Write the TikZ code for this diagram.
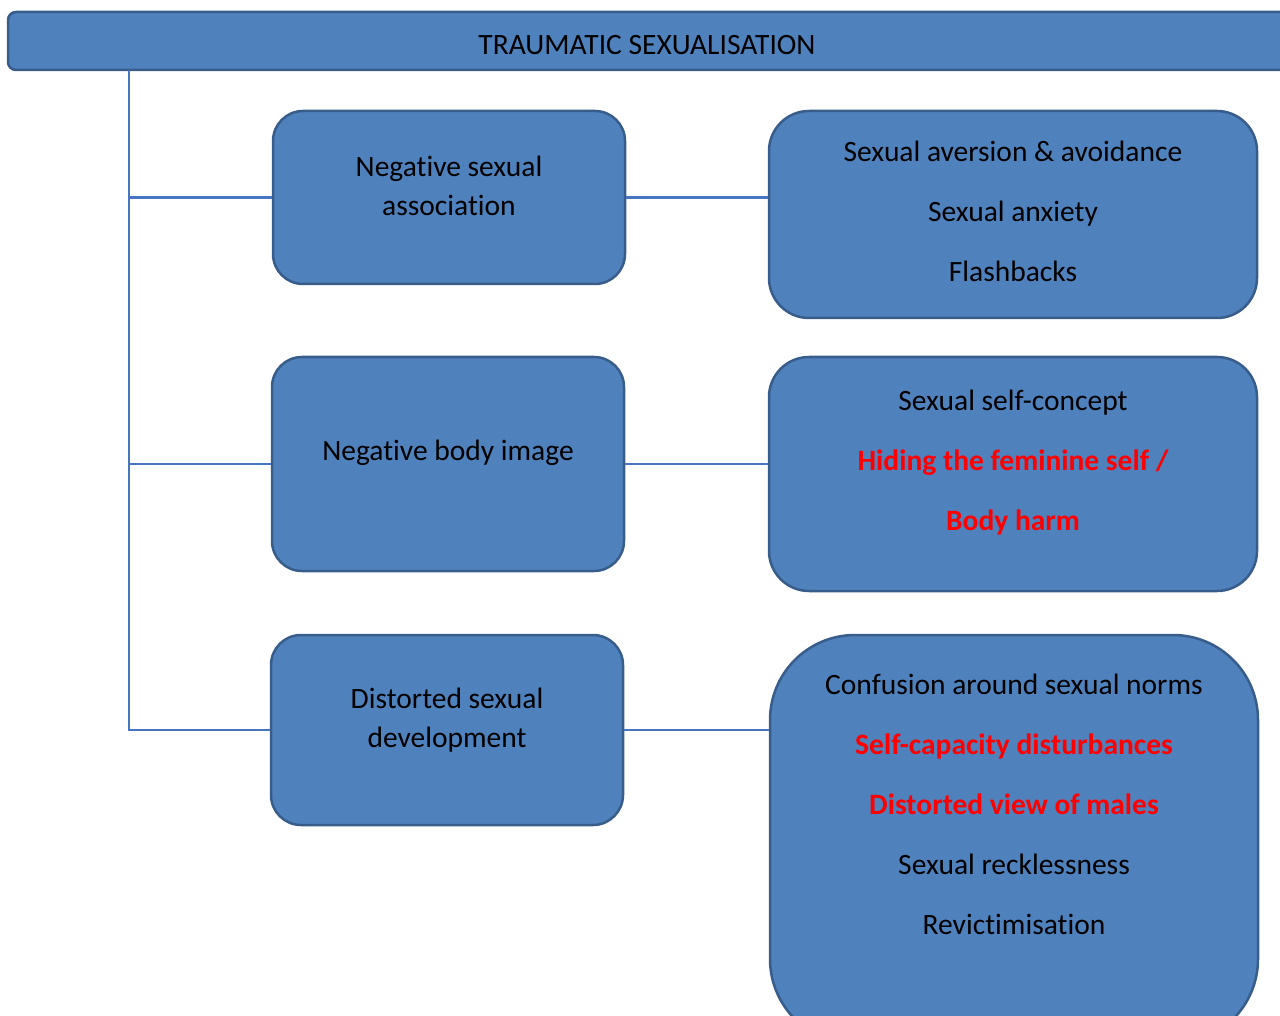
\documentclass[tikz,border=0pt]{standalone}
\usepackage{fontspec}
\setmainfont{Carlito}[Ligatures=NoCommon]
\definecolor{boxfill}{HTML}{4F81BD}
\definecolor{boxline}{HTML}{385D8A}
\definecolor{linkline}{HTML}{4775C0}
\begin{document}
\begin{tikzpicture}[x=1pt, y=-1pt,
    box/.style={draw=boxline, fill=boxfill, line width=2.5pt, inner sep=0pt},
    txt/.style={align=center, font=\fontsize{29.5}{39}\selectfont},
    list/.style={align=center, font=\fontsize{29.5}{60}\selectfont},
    link/.style={draw=linkline, line width=2.2pt}]
    \clip (0,0) rectangle (1280,1016);
    \node [box, rounded corners=8pt, minimum width=1290pt, minimum height=58pt] (title) at (653,41) {};
    \node [txt] (titletext) at (647,45) {TRAUMATIC SEXUALISATION};
    % left column
    \node [box, rounded corners=30pt, minimum width=352pt, minimum height=173pt] (negsex) at (449,197.5) {};
    \node [box, rounded corners=30pt, minimum width=352pt, minimum height=214pt] (body) at (448,464) {};
    \node [box, rounded corners=30pt, minimum width=352pt, minimum height=190pt] (distort) at (447,730) {};
    \node [txt] (negsextext) at (449,186) {Negative sexual\\association};
    \node [txt] (bodytext) at (448,453) {Negative body image};
    \node [txt] (distorttext) at (447,720) {Distorted sexual\\development};
    % right column
    \node [box, rounded corners=40pt, minimum width=488pt, minimum height=207pt] (aversion) at (1013,214.5) {};
    \node [box, rounded corners=40pt, minimum width=488pt, minimum height=234pt] (concept) at (1013,474) {};
    \node [box, rounded corners=85pt, minimum width=488pt, minimum height=409pt] (norms) at (1014,839.5) {};
    \node [list] (aversiontext) at (1013,211) {Sexual aversion \& avoidance\\Sexual anxiety\\Flashbacks};
    \node [list] (concepttext) at (1013,463) {Sexual self-concept\\
      \textcolor{red}{\bfseries Hiding the feminine self /}\\
      \textcolor{red}{\bfseries Body harm}};
    \node [list] (normstext) at (1014,804) {Confusion around sexual norms\\
      \textcolor{red}{\bfseries Self-capacity disturbances}\\
      \textcolor{red}{\bfseries Distorted view of males}\\
      Sexual recklessness\\Revictimisation};
    % connectors
    \coordinate (trunk) at (129,70);
    \draw [link] (trunk) |- (negsex.west);
    \draw [link] (trunk) |- (body.west);
    \draw [link] (trunk) |- (distort.west);
    \draw [link] (negsex.east) -- (negsex.east -| aversion.west);
    \draw [link] (body.east) -- (body.east -| concept.west);
    \draw [link] (distort.east) -- (distort.east -| norms.west);
\end{tikzpicture}
\end{document}
